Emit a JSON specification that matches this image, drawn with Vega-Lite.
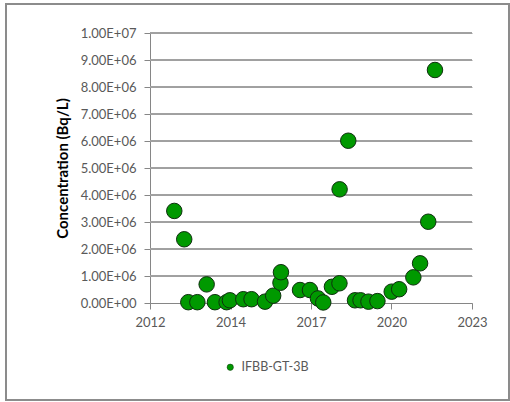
{
  "$schema": "https://vega.github.io/schema/vega-lite/v6.json",
  "autosize": "none",
  "width": 322,
  "height": 270,
  "padding": {"left": 150, "top": 33, "right": 38, "bottom": 99},
  "background": "white",
  "config": {
    "view": {"stroke": null},
    "font": "Lato",
    "axis": {"labelFont": "Lato", "titleFont": "Lato"}
  },
  "resolve": {"axis": {"x": "independent", "y": "independent"}},
  "data": {
    "values": [
      {"date": "2012-10-30", "conc": 3410000, "series": "IFBB-GT-3B"},
      {"date": "2013-03-03", "conc": 2360000, "series": "IFBB-GT-3B"},
      {"date": "2013-04-23", "conc": 30000, "series": "IFBB-GT-3B"},
      {"date": "2013-08-14", "conc": 30000, "series": "IFBB-GT-3B"},
      {"date": "2013-12-08", "conc": 690000, "series": "IFBB-GT-3B"},
      {"date": "2014-03-21", "conc": 30000, "series": "IFBB-GT-3B"},
      {"date": "2014-08-14", "conc": 30000, "series": "IFBB-GT-3B"},
      {"date": "2014-09-24", "conc": 100000, "series": "IFBB-GT-3B"},
      {"date": "2015-03-10", "conc": 140000, "series": "IFBB-GT-3B"},
      {"date": "2015-06-21", "conc": 140000, "series": "IFBB-GT-3B"},
      {"date": "2015-12-06", "conc": 50000, "series": "IFBB-GT-3B"},
      {"date": "2016-03-17", "conc": 270000, "series": "IFBB-GT-3B"},
      {"date": "2016-06-16", "conc": 750000, "series": "IFBB-GT-3B"},
      {"date": "2016-06-22", "conc": 1140000, "series": "IFBB-GT-3B"},
      {"date": "2017-02-15", "conc": 480000, "series": "IFBB-GT-3B"},
      {"date": "2017-06-19", "conc": 480000, "series": "IFBB-GT-3B"},
      {"date": "2017-09-27", "conc": 170000, "series": "IFBB-GT-3B"},
      {"date": "2017-12-02", "conc": 20000, "series": "IFBB-GT-3B"},
      {"date": "2018-03-20", "conc": 600000, "series": "IFBB-GT-3B"},
      {"date": "2018-06-22", "conc": 730000, "series": "IFBB-GT-3B"},
      {"date": "2018-06-24", "conc": 4210000, "series": "IFBB-GT-3B"},
      {"date": "2018-10-10", "conc": 6010000, "series": "IFBB-GT-3B"},
      {"date": "2019-01-02", "conc": 100000, "series": "IFBB-GT-3B"},
      {"date": "2019-03-12", "conc": 100000, "series": "IFBB-GT-3B"},
      {"date": "2019-06-19", "conc": 50000, "series": "IFBB-GT-3B"},
      {"date": "2019-10-09", "conc": 70000, "series": "IFBB-GT-3B"},
      {"date": "2020-04-04", "conc": 420000, "series": "IFBB-GT-3B"},
      {"date": "2020-07-06", "conc": 510000, "series": "IFBB-GT-3B"},
      {"date": "2020-12-30", "conc": 950000, "series": "IFBB-GT-3B"},
      {"date": "2021-03-24", "conc": 1470000, "series": "IFBB-GT-3B"},
      {"date": "2021-07-04", "conc": 3010000, "series": "IFBB-GT-3B"},
      {"date": "2021-09-26", "conc": 8630000, "series": "IFBB-GT-3B"}
    ]
  },
  "layer": [
    {"mark": {"type": "rule", "stroke": "#a0a0a0", "strokeWidth": 1}, "encoding": {"y": {"datum": 1000000, "type": "quantitative", "axis": null}}},
    {"mark": {"type": "rule", "stroke": "#a0a0a0", "strokeWidth": 1}, "encoding": {"y": {"datum": 2000000, "type": "quantitative", "axis": null}}},
    {"mark": {"type": "rule", "stroke": "#a0a0a0", "strokeWidth": 1}, "encoding": {"y": {"datum": 3000000, "type": "quantitative", "axis": null}}},
    {"mark": {"type": "rule", "stroke": "#a0a0a0", "strokeWidth": 1}, "encoding": {"y": {"datum": 4000000, "type": "quantitative", "axis": null}}},
    {"mark": {"type": "rule", "stroke": "#a0a0a0", "strokeWidth": 1}, "encoding": {"y": {"datum": 5000000, "type": "quantitative", "axis": null}}},
    {"mark": {"type": "rule", "stroke": "#a0a0a0", "strokeWidth": 1}, "encoding": {"y": {"datum": 6000000, "type": "quantitative", "axis": null}}},
    {"mark": {"type": "rule", "stroke": "#a0a0a0", "strokeWidth": 1}, "encoding": {"y": {"datum": 7000000, "type": "quantitative", "axis": null}}},
    {"mark": {"type": "rule", "stroke": "#a0a0a0", "strokeWidth": 1}, "encoding": {"y": {"datum": 8000000, "type": "quantitative", "axis": null}}},
    {"mark": {"type": "rule", "stroke": "#a0a0a0", "strokeWidth": 1}, "encoding": {"y": {"datum": 9000000, "type": "quantitative", "axis": null}}},
    {"mark": {"type": "rule", "stroke": "#a0a0a0", "strokeWidth": 1}, "encoding": {"y": {"datum": 10000000, "type": "quantitative", "axis": null}}},
    {
      "mark": {"type": "point", "filled": true, "shape": "circle", "size": 240, "stroke": "#0f2f0f", "strokeWidth": 1, "opacity": 1},
      "encoding": {
        "x": {
          "field": "date",
          "type": "temporal",
          "scale": {
            "type": "utc",
            "domain": [
              {"year": 2012, "month": 1, "date": 1, "utc": true},
              {"year": 2023, "month": 1, "date": 1, "utc": true}
            ],
            "nice": false
          },
          "axis": {
            "title": null,
            "values": [
              {"year": 2012, "month": 1, "date": 1, "utc": true},
              {"year": 2014, "month": 10, "date": 2, "utc": true},
              {"year": 2017, "month": 7, "date": 2, "utc": true},
              {"year": 2020, "month": 3, "date": 31, "utc": true},
              {"year": 2023, "month": 1, "date": 1, "utc": true}
            ],
            "labelExpr": "utcFormat(datum.value, '%Y')",
            "grid": false,
            "domainColor": "#868686",
            "tickColor": "#868686",
            "tickSize": 6,
            "labelPadding": 7,
            "labelFontSize": 13,
            "labelColor": "#595959",
            "labelFlush": false,
            "labelOverlap": false
          }
        },
        "y": {
          "field": "conc",
          "type": "quantitative",
          "scale": {"domain": [0, 10000000], "nice": false},
          "axis": {
            "orient": "left",
            "title": "Concentration (Bq/L)",
            "titleFontSize": 15,
            "titleFontWeight": "bold",
            "titleColor": "#000000",
            "titlePadding": 10,
            "values": [0, 1000000, 2000000, 3000000, 4000000, 5000000, 6000000, 7000000, 8000000, 9000000, 10000000],
            "labelExpr": "replace(upper(format(datum.value, '.2e')), 'E+', 'E+0')",
            "labelFontSize": 13,
            "labelColor": "#595959",
            "labelPadding": 8,
            "labelOverlap": false,
            "tickSize": 6,
            "tickColor": "#868686",
            "domainColor": "#868686",
            "grid": true,
            "gridColor": "#a0a0a0",
            "labelFlush": false
          }
        },
        "fill": {
          "field": "series",
          "type": "nominal",
          "scale": {"range": ["#009900"]},
          "legend": {
            "title": null,
            "orient": "none",
            "legendX": 74,
            "legendY": 328,
            "padding": 0,
            "symbolType": "circle",
            "symbolSize": 40,
            "symbolStrokeColor": "#0f2f0f",
            "symbolStrokeWidth": 0.5,
            "labelFontSize": 12.5,
            "labelColor": "#595959",
            "labelFont": "Lato",
            "labelOffset": 5
          }
        }
      }
    },
    {
      "mark": {"type": "rect", "fill": null, "stroke": "#8c8c8c", "strokeWidth": 1.5, "clip": false},
      "encoding": {
        "x": {"datum": {"year": 2007, "month": 2, "date": 1, "utc": true}, "type": "temporal", "axis": null},
        "x2": {"datum": {"year": 2024, "month": 4, "date": 10, "utc": true}},
        "y": {"datum": 11074000, "type": "quantitative", "axis": null},
        "y2": {"datum": -3600000}
      }
    }
  ]
}
